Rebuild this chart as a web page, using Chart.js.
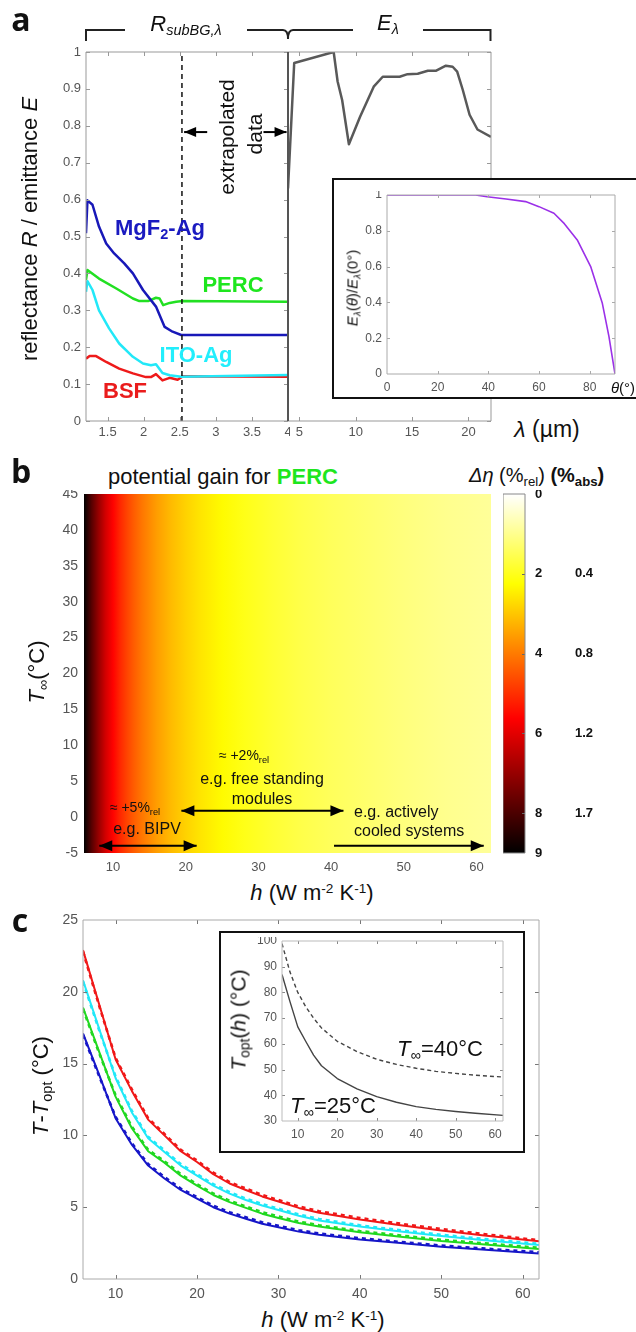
<!DOCTYPE html>
<html><head><meta charset="utf-8">
<script src="https://cdn.jsdelivr.net/npm/chart.js@4.4.1/dist/chart.umd.min.js"></script>
<style>
html,body{margin:0;padding:0;background:#fff;}
#fig{position:relative;width:636px;height:1332px;overflow:hidden;background:#fff;font-family:"Liberation Sans",Arial,Helvetica,sans-serif;color:#111;}
#fig canvas{position:absolute;}
.t{position:absolute;white-space:nowrap;line-height:1;}
.t sub{font-size:66%;position:relative;top:0.3em;vertical-align:baseline;line-height:0;}
.t sup{font-size:62%;position:relative;top:-0.5em;vertical-align:baseline;line-height:0;}
.box{position:absolute;border:2px solid #111;background:#fff;box-sizing:border-box;}
</style></head>
<body><div id="fig">
<canvas id="cA1"></canvas>
<canvas id="cA2"></canvas>
<div class="box" style="left:332px;top:178px;width:312px;height:221px;"></div>
<canvas id="cAI"></canvas>
<canvas id="cB"></canvas>
<canvas id="cCB"></canvas>
<canvas id="cC"></canvas>
<div class="box" style="left:219px;top:931px;width:306px;height:222px;"></div>
<canvas id="cCI"></canvas>
<svg style="position:absolute;left:0;top:0;" width="636" height="60"><path d="M86,41 L86,30 L125,30 M247,30 L283,30 Q288,30 288,39 Q288,30 293,30 L353,30 M423,30 L490.5,30 L490.5,41" fill="none" stroke="#222" stroke-width="2"/></svg>
</div>
<script>
// ================= DATA =================
// Panel a: sub-bandgap reflectance R(lambda) [lambda in um]
const lamMgF2 = [1.2, 1.22, 1.29, 1.38, 1.48, 1.59, 1.73, 1.85, 1.99, 2.17, 2.29, 2.4, 2.52, 4.0];
const R_MgF2  = [0.509, 0.598, 0.586, 0.527, 0.481, 0.454, 0.427, 0.40, 0.355, 0.31, 0.255, 0.242, 0.233, 0.233];
const lamPERC = [1.2, 1.22, 1.38, 1.62, 1.85, 1.94, 2.06, 2.17, 2.22, 2.27, 2.36, 2.45, 2.54, 4.0];
const R_PERC  = [0.382, 0.409, 0.386, 0.359, 0.332, 0.325, 0.325, 0.334, 0.332, 0.314, 0.32, 0.323, 0.325, 0.323];
const lamITO  = [1.2, 1.22, 1.29, 1.38, 1.52, 1.66, 1.85, 1.99, 2.1, 2.17, 2.26, 2.36, 2.52, 4.0];
const R_ITO   = [0.35, 0.379, 0.355, 0.30, 0.251, 0.21, 0.174, 0.156, 0.151, 0.154, 0.13, 0.124, 0.12, 0.125];
const lamBSF  = [1.2, 1.25, 1.34, 1.48, 1.66, 1.85, 2.03, 2.1, 2.17, 2.26, 2.36, 2.47, 2.54, 4.0];
const R_BSF   = [0.169, 0.176, 0.176, 0.16, 0.142, 0.129, 0.119, 0.119, 0.127, 0.11, 0.117, 0.112, 0.121, 0.12];
const extrapStart = 2.53;
// Panel a: spectral emittance E(lambda)
const lamE  = [4.0, 4.55, 8.05, 8.4, 8.8, 9.4, 10.4, 11.6, 12.4, 13.9, 14.6, 15.5, 16.4, 17.1, 18.0, 18.6, 19.0, 19.5, 20.1, 20.8, 22.0];
const E_lam = [0.63, 0.97, 1.0, 0.92, 0.87, 0.75, 0.825, 0.906, 0.933, 0.933, 0.94, 0.941, 0.949, 0.949, 0.963, 0.96, 0.947, 0.897, 0.83, 0.79, 0.77];
// Panel a inset: angular emittance
const thetaDeg = [0, 35, 39.5, 47, 54.7, 60, 65.9, 70, 75.1, 80.4, 85, 87.6, 90];
const E_theta  = [1, 1, 0.99, 0.978, 0.963, 0.935, 0.898, 0.84, 0.749, 0.6, 0.395, 0.21, 0];
// Panel a ticks
const xTicksA1 = [1.5, 2, 2.5, 3, 3.5, 4];
const xTicksA2 = [5, 10, 15, 20];
const yTicksA  = [0, 0.1, 0.2, 0.3, 0.4, 0.5, 0.6, 0.7, 0.8, 0.9, 1];
const xTicksAI = [0, 20, 40, 60, 80];
const yTicksAI = [0, 0.2, 0.4, 0.6, 0.8, 1];
// Panel b: potential gain for PERC, delta eta (%rel) vs h
const hMap     = [6, 7, 8, 9, 10, 11, 12, 13, 14, 15, 16, 18, 20, 22, 25, 28, 32, 36, 40, 45, 50, 56, 62];
const dEtaPERC = [9.0, 7.9, 7.0, 6.2, 5.6, 5.1, 4.7, 4.35, 4.05, 3.8, 3.55, 3.15, 2.85, 2.6, 2.3, 2.05, 1.8, 1.6, 1.45, 1.3, 1.15, 1.0, 0.9];
const xTicksB  = [10, 20, 30, 40, 50, 60];
const yTicksB  = [-5, 0, 5, 10, 15, 20, 25, 30, 35, 40, 45];
const cbStops  = [0, 2.25, 5.625, 9];
const cbRelTicks = [0, 2, 4, 6, 8, 9];
const cbAbsTicks = [2, 4, 6, 8];
const cbAbsLabels = ['0.4', '0.8', '1.2', '1.7'];
// Panel c: T - T_opt vs h (solid: T_inf=25C, dashed: T_inf=40C)
const hC = [6, 8, 10, 12, 14, 16, 18, 20, 22, 24, 26, 28, 30, 32.5, 35, 40, 45, 50, 55, 62];
const dT_BSF_25  = [22.9, 19.1, 15.3, 13.1, 11.1, 10.0, 8.9, 8.15, 7.3, 6.65, 6.2, 5.75, 5.4, 4.95, 4.62, 4.15, 3.75, 3.38, 3.05, 2.62];
const dT_BSF_40  = [22.8, 19.0, 15.4, 13.2, 11.2, 10.1, 9.0, 8.25, 7.4, 6.75, 6.3, 5.85, 5.5, 5.05, 4.72, 4.25, 3.85, 3.48, 3.14, 2.7];
const dT_ITO_25  = [20.8, 17.4, 14.0, 11.6, 9.8, 8.85, 7.9, 7.2, 6.5, 5.95, 5.5, 5.12, 4.8, 4.4, 4.08, 3.65, 3.3, 3.0, 2.72, 2.37];
const dT_ITO_40  = [20.7, 17.3, 14.1, 11.7, 9.9, 8.95, 8.0, 7.3, 6.6, 6.05, 5.6, 5.22, 4.9, 4.5, 4.18, 3.74, 3.39, 3.08, 2.8, 2.45];
const dT_PERC_25 = [18.9, 15.8, 12.7, 10.5, 8.9, 8.1, 7.2, 6.5, 5.85, 5.35, 4.95, 4.55, 4.25, 3.9, 3.65, 3.25, 2.95, 2.65, 2.42, 2.09];
const dT_PERC_40 = [18.8, 15.7, 12.8, 10.6, 9.0, 8.2, 7.3, 6.6, 5.95, 5.45, 5.05, 4.65, 4.35, 4.0, 3.74, 3.34, 3.03, 2.73, 2.5, 2.17];
const dT_MgF2_25 = [17.1, 14.2, 11.2, 9.35, 7.9, 7.0, 6.2, 5.6, 5.0, 4.55, 4.2, 3.85, 3.6, 3.3, 3.08, 2.75, 2.5, 2.25, 2.05, 1.78];
const dT_MgF2_40 = [17.0, 14.1, 11.3, 9.45, 8.0, 7.1, 6.3, 5.7, 5.1, 4.65, 4.3, 3.95, 3.7, 3.4, 3.17, 2.84, 2.58, 2.33, 2.13, 1.86];
const xTicksC = [10, 20, 30, 40, 50, 60];
const yTicksC = [0, 5, 10, 15, 20, 25];
// Panel c inset: T_opt(h)
const hIn    = [6, 8, 10, 12, 14, 16, 20, 25, 30, 35, 40, 45, 50, 55, 62];
const Topt25 = [87, 76.5, 66.6, 61, 55.6, 51.5, 46.5, 42.5, 39.5, 37.3, 35.6, 34.5, 33.7, 33, 32.2];
const Topt40 = [99, 88, 80, 74.5, 70, 66.2, 61, 57, 54, 52, 50.5, 49.3, 48.5, 47.8, 47.1];
const xTicksCI = [10, 20, 30, 40, 50, 60];
const yTicksCI = [30, 40, 50, 60, 70, 80, 90, 100];

// ================= HELPERS =================
const FONT = '"Liberation Sans", Arial, Helvetica, sans-serif';
Chart.defaults.font.family = FONT;
const fig = document.getElementById('fig');
function xy(xs, ys) { return xs.map(function (x, i) { return { x: x, y: ys[i] }; }); }
function clamp(v) { return Math.max(0, Math.min(1, v)); }
function hot(v) {
  const t = 1 - v / 9;
  return 'rgb(' + Math.round(255 * clamp(t / 0.375)) + ',' + Math.round(255 * clamp((t - 0.375) / 0.375)) + ',' + Math.round(255 * clamp((t - 0.75) / 0.25)) + ')';
}
function lin(min, max, ticks, o) {
  o = o || {};
  const s = {
    type: 'linear', min: min, max: max, reverse: !!o.reverse, display: true,
    afterBuildTicks: function (ax) { ax.ticks = ticks.map(function (v) { return { value: v }; }); },
    afterFit: function (ax) {
      if (ax.isHorizontal()) { ax.height = o.fit; ax.paddingLeft = 0; ax.paddingRight = 0; }
      else { ax.width = o.fit; ax.paddingTop = 0; ax.paddingBottom = 0; }
    },
    grid: { display: false, drawTicks: false },
    border: { display: false },
    ticks: {
      display: o.labels !== false, padding: (o.pad === undefined ? 4 : o.pad), color: o.color || '#555',
      font: { family: FONT, size: o.size || 13, weight: o.weight || 'normal' },
      maxRotation: 0, minRotation: 0, autoSkip: false,
      callback: o.cb || function (v) { return String(Math.round(v * 1000) / 1000); }
    }
  };
  if (o.position) s.position = o.position;
  if (o.weightAx !== undefined) s.weight = o.weightAx;
  return s;
}
const mbox = {
  id: 'mbox',
  afterDatasetsDraw: function (chart, args, o) {
    if (!o || !o.on) return;
    const ctx = chart.ctx, a = chart.chartArea, xs = chart.scales.x, ys = chart.scales.y;
    const tl = o.tl || 4;
    ctx.save();
    ctx.lineWidth = 1; ctx.strokeStyle = o.tc || o.color || '#777';
    ctx.beginPath();
    (o.xt || []).forEach(function (v) {
      const p = Math.round(xs.getPixelForValue(v)) + 0.5;
      if (o.tb !== false) { ctx.moveTo(p, a.bottom); ctx.lineTo(p, a.bottom - tl); }
      if (o.tt !== false) { ctx.moveTo(p, a.top); ctx.lineTo(p, a.top + tl); }
    });
    (o.yt || []).forEach(function (v) {
      const p = Math.round(ys.getPixelForValue(v)) + 0.5;
      if (o.tlft !== false) { ctx.moveTo(a.left, p); ctx.lineTo(a.left + tl, p); }
      if (o.tr !== false) { ctx.moveTo(a.right, p); ctx.lineTo(a.right - tl, p); }
    });
    ctx.stroke();
    const sides = { top: [a.left, a.top, a.right, a.top], right: [a.right, a.top, a.right, a.bottom], bottom: [a.left, a.bottom, a.right, a.bottom], left: [a.left, a.top, a.left, a.bottom] };
    Object.keys(sides).forEach(function (k) {
      const c = (o.bc && o.bc[k]) || o.color;
      if (!c || c === 'none') return;
      ctx.strokeStyle = c; ctx.lineWidth = (o.bw && o.bw[k]) || o.w || 1;
      const s = sides[k];
      ctx.beginPath(); ctx.moveTo(s[0], s[1]); ctx.lineTo(s[2], s[3]); ctx.stroke();
    });
    ctx.restore();
  }
};
const arrows = {
  id: 'arrows',
  afterDatasetsDraw: function (chart, args, o) {
    if (!o || !o.list) return;
    const ctx = chart.ctx, xs = chart.scales.x, ys = chart.scales.y;
    const L = o.len || 12, Wd = o.wid || 5;
    o.list.forEach(function (ar) {
      const x1 = xs.getPixelForValue(ar.x1), y1 = ys.getPixelForValue(ar.y1);
      const x2 = xs.getPixelForValue(ar.x2), y2 = ys.getPixelForValue(ar.y2);
      const ang = Math.atan2(y2 - y1, x2 - x1);
      ctx.save(); ctx.strokeStyle = '#000'; ctx.fillStyle = '#000'; ctx.lineWidth = o.lw || 2;
      ctx.beginPath(); ctx.moveTo(x1, y1); ctx.lineTo(x2, y2); ctx.stroke();
      function head(px, py, an) {
        ctx.beginPath();
        ctx.moveTo(px, py);
        ctx.lineTo(px - L * Math.cos(an) + Wd * Math.sin(an), py - L * Math.sin(an) - Wd * Math.cos(an));
        ctx.lineTo(px - L * Math.cos(an) - Wd * Math.sin(an), py - L * Math.sin(an) + Wd * Math.cos(an));
        ctx.closePath(); ctx.fill();
      }
      head(x2, y2, ang);
      if (ar.both) head(x1, y1, ang + Math.PI);
      ctx.restore();
    });
  }
};
Chart.register(mbox, arrows);

function place(id, plot, m) {
  const c = document.getElementById(id);
  const W = plot.w + m.l + m.r, H = plot.h + m.t + m.b;
  c.width = W; c.height = H; c.style.width = W + 'px'; c.style.height = H + 'px';
  c.style.left = (plot.x - m.l) + 'px'; c.style.top = (plot.y - m.t) + 'px';
  return c;
}
function make(id, plot, m, datasets, scales, plug) {
  const c = place(id, plot, m);
  return new Chart(c, {
    type: 'line', data: { datasets: datasets },
    options: {
      responsive: false, maintainAspectRatio: false, animation: false, devicePixelRatio: 1, events: [],
      layout: { padding: { left: 0, right: m.r, top: m.t, bottom: 0 } },
      plugins: Object.assign({ legend: { display: false }, tooltip: { enabled: false }, title: { display: false } }, plug || {}),
      scales: scales,
      elements: { point: { radius: 0, hoverRadius: 0 }, line: { tension: 0, borderJoinStyle: 'round', borderCapStyle: 'butt' } }
    }
  });
}
function ln(data, color, w, dash) {
  return { data: data, borderColor: color, borderWidth: w, borderDash: dash || [], fill: false, pointRadius: 0 };
}
function T(html, x, y, css, mode) {
  const d = document.createElement('div');
  d.className = 't'; d.innerHTML = html;
  d.style.cssText = css || '';
  d.style.left = x + 'px'; d.style.top = y + 'px';
  let tr = (mode === 'L') ? 'translate(0,-50%)' : 'translate(-50%,-50%)';
  if (mode === 'R') tr += ' rotate(-90deg)';
  d.style.transform = tr;
  fig.appendChild(d);
}

// ================= PANEL a =================
const cBlue = '#1818b8', cGreen = '#22e022', cCyan = '#22e8f8', cRed = '#ee1a1a';
make('cA1', { x: 86, y: 52, w: 202, h: 369 }, { l: 60, r: 2, t: 6, b: 24 }, [
  ln([{ x: extrapStart, y: 0 }, { x: extrapStart, y: 1 }], '#111', 1.5, [5, 4]),
  ln(xy(lamMgF2, R_MgF2), cBlue, 2.5),
  ln(xy(lamPERC, R_PERC), cGreen, 2.5),
  ln(xy(lamITO, R_ITO), cCyan, 2.5),
  ln(xy(lamBSF, R_BSF), cRed, 2.5)
], {
  x: lin(1.2, 4, xTicksA1, { fit: 24, pad: 4, size: 13 }),
  y: lin(0, 1, yTicksA, { fit: 60, pad: 5, size: 13 })
}, {
  mbox: { on: true, color: '#999', bc: { right: '#555' }, bw: { right: 2 }, xt: [1.5, 2, 2.5, 3, 3.5], yt: yTicksA },
  arrows: { list: [{ x1: 2.88, y1: 0.783, x2: 2.56, y2: 0.783 }, { x1: 3.66, y1: 0.783, x2: 3.98, y2: 0.783 }], len: 12, wid: 5, lw: 2 }
});
make('cA2', { x: 288, y: 52, w: 203, h: 369 }, { l: 2, r: 6, t: 6, b: 24 }, [
  ln(xy(lamE, E_lam), '#595959', 2.5)
], {
  x: lin(4, 22, xTicksA2, { fit: 24, pad: 4, size: 13 }),
  y: lin(0, 1, yTicksA, { fit: 2, labels: false })
}, {
  mbox: { on: true, color: '#999', bc: { left: '#555' }, bw: { left: 2 }, xt: xTicksA2, yt: yTicksA, tlft: false }
});
make('cAI', { x: 387, y: 195, w: 228, h: 179 }, { l: 40, r: 4, t: 4, b: 22 }, [
  ln(xy(thetaDeg, E_theta), '#9b30e8', 1.6)
], {
  x: lin(0, 90, xTicksAI, { fit: 22, pad: 6, size: 12 }),
  y: lin(0, 1, yTicksAI, { fit: 40, pad: 5, size: 12 })
}, {
  mbox: { on: true, color: '#aaa', xt: [20, 40, 60, 80], yt: [0.2, 0.4, 0.6, 0.8], tl: 3 }
});

// ================= PANEL b =================
make('cB', { x: 84, y: 494, w: 407, h: 359 }, { l: 50, r: 4, t: 4, b: 24 }, [{
  data: [{ x: hMap[0], y: 45 }, { x: hMap[hMap.length - 1], y: 45 }],
  borderColor: 'rgba(0,0,0,0)', borderWidth: 0, pointRadius: 0, fill: { value: -5 },
  backgroundColor: function (c) {
    const ch = c.chart; if (!ch.chartArea) return 'rgba(0,0,0,0)';
    const xs = ch.scales.x, h0 = hMap[0], h1 = hMap[hMap.length - 1];
    const g = ch.ctx.createLinearGradient(xs.getPixelForValue(h0), 0, xs.getPixelForValue(h1), 0);
    hMap.forEach(function (h, i) { g.addColorStop((h - h0) / (h1 - h0), hot(dEtaPERC[i])); });
    return g;
  }
}], {
  x: lin(6, 62, xTicksB, { fit: 24, pad: 7, size: 13 }),
  y: lin(-5, 45, yTicksB, { fit: 50, pad: 6, size: 14 })
}, {
  arrows: { list: [
    { x1: 8.1, y1: -4, x2: 21.5, y2: -4, both: true },
    { x1: 19.4, y1: 0.9, x2: 41.7, y2: 0.9, both: true },
    { x1: 40.4, y1: -4, x2: 61.0, y2: -4 }
  ], len: 13, wid: 5.5, lw: 2 }
});
(function () {
  const plot = { x: 503, y: 494, w: 22, h: 359 }, m = { l: 0, r: 110, t: 4, b: 4 };
  const c = place('cCB', plot, m);
  new Chart(c, {
    type: 'line',
    data: { datasets: [{
      data: [{ x: 0, y: 0 }, { x: 1, y: 0 }],
      borderColor: 'rgba(0,0,0,0)', borderWidth: 0, pointRadius: 0, fill: { value: 9 },
      backgroundColor: function (cx) {
        const ch = cx.chart; if (!ch.chartArea) return 'rgba(0,0,0,0)';
        const ys = ch.scales.y;
        const g = ch.ctx.createLinearGradient(0, ys.getPixelForValue(0), 0, ys.getPixelForValue(9));
        cbStops.forEach(function (v) { g.addColorStop(v / 9, hot(v)); });
        return g;
      }
    }] },
    options: {
      responsive: false, maintainAspectRatio: false, animation: false, devicePixelRatio: 1, events: [],
      layout: { padding: { left: 0, right: 2, top: 4, bottom: 4 } },
      plugins: { legend: { display: false }, tooltip: { enabled: false },
        mbox: { on: true, color: '#888', xt: [], yt: [2, 4, 6, 8], tlft: false, tl: 3, tc: '#666' } },
      elements: { point: { radius: 0 }, line: { tension: 0 } },
      scales: {
        x: { type: 'linear', min: 0, max: 1, display: false },
        y: lin(0, 9, cbRelTicks, { position: 'right', reverse: true, fit: 38, pad: 10, size: 13, weight: 'bold', color: '#111', weightAx: 0 }),
        y2: lin(0, 9, cbAbsTicks, { position: 'right', reverse: true, fit: 70, pad: 12, size: 13, weight: 'bold', color: '#111', weightAx: 1,
          cb: function (v, i) { return cbAbsLabels[i]; } })
      }
    }
  });
})();

// ================= PANEL c =================
const rC = '#f01818', cyC = '#20e8f8', gC = '#20d820', bC = '#1616c8';
make('cC', { x: 83, y: 920, w: 456, h: 359 }, { l: 50, r: 6, t: 6, b: 26 }, [
  ln(xy(hC, dT_BSF_40), rC, 2.6, [4, 4]),
  ln(xy(hC, dT_BSF_25), rC, 2),
  ln(xy(hC, dT_ITO_40), cyC, 2.6, [4, 4]),
  ln(xy(hC, dT_ITO_25), cyC, 2),
  ln(xy(hC, dT_PERC_40), gC, 2.6, [4, 4]),
  ln(xy(hC, dT_PERC_25), gC, 2),
  ln(xy(hC, dT_MgF2_40), bC, 2.6, [4, 4]),
  ln(xy(hC, dT_MgF2_25), bC, 2)
], {
  x: lin(6, 62, xTicksC, { fit: 26, pad: 7, size: 14 }),
  y: lin(0, 25, yTicksC, { fit: 50, pad: 5, size: 14 })
}, {
  mbox: { on: true, color: '#aaa', xt: xTicksC, yt: [5, 10, 15, 20], tc: '#777' }
});
make('cCI', { x: 282, y: 941, w: 221, h: 180 }, { l: 40, r: 4, t: 4, b: 22 }, [
  ln(xy(hIn, Topt40), '#444', 1.4, [4, 3]),
  ln(xy(hIn, Topt25), '#444', 1.4)
], {
  x: lin(6, 62, xTicksCI, { fit: 22, pad: 6, size: 12 }),
  y: lin(30, 100, yTicksCI, { fit: 40, pad: 5, size: 12 })
}, {
  mbox: { on: true, color: '#bbb', xt: xTicksCI, yt: [40, 50, 60, 70, 80, 90], tl: 3, tc: '#888' }
});

// ================= TEXT =================
const F = 'font-family:"Liberation Sans",Arial,sans-serif;';
const FB = 'font-family:"Open Sans","Liberation Sans",sans-serif;font-weight:bold;font-size:32px;';
// panel a
T('a', 21, 19, FB);
T('<i>R</i><sub><i>subBG,λ</i></sub>', 186, 24, F + 'font-size:22px;');
T('<i>E</i><sub><i>λ</i></sub>', 388, 23, F + 'font-size:22px;');
T('reflectance <i>R</i> / emittance <i>E</i>', 30, 229, F + 'font-size:22px;', 'R');
T('MgF<sub>2</sub>-Ag', 160, 228, F + 'font-size:22px;font-weight:bold;color:#1a1ac0;');
T('PERC', 233, 285, F + 'font-size:22px;font-weight:bold;color:#1ee61e;');
T('ITO-Ag', 196, 355, F + 'font-size:22px;font-weight:bold;color:#22eefc;');
T('BSF', 125, 391, F + 'font-size:22px;font-weight:bold;color:#ea1c1c;');
T('extrapolated', 226, 137, F + 'font-size:21px;', 'R');
T('data', 254, 134, F + 'font-size:21px;', 'R');
T('<i>λ</i> (µm)', 547, 429, F + 'font-size:23px;');
T('<i>E</i><sub><i>λ</i></sub>(<i>θ</i>)/<i>E</i><sub><i>λ</i></sub>(0°)', 352, 288, F + 'font-size:15px;', 'R');
T('<i>θ</i>(°)', 623, 387, F + 'font-size:15px;');
// panel b
T('b', 21, 471, FB);
T('potential gain for <b style="color:#1ee61e;">PERC</b>', 108, 477, F + 'font-size:22px;', 'L');
T('<i>Δη</i> (%<sub>rel</sub>) <b>(%<sub>abs</sub>)</b>', 469, 475, F + 'font-size:20px;', 'L');
T('<i>T</i><sub>∞</sub>(°C)', 37, 672, F + 'font-size:22px;', 'R');
T('≈ +2%<sub>rel</sub>', 244, 755, F + 'font-size:14px;');
T('e.g. free standing', 262, 779, F + 'font-size:16px;');
T('modules', 262, 799, F + 'font-size:16px;');
T('≈ +5%<sub>rel</sub>', 135, 807, F + 'font-size:14px;');
T('e.g. BIPV', 147, 829, F + 'font-size:16px;');
T('e.g. actively', 354, 812, F + 'font-size:16px;', 'L');
T('cooled systems', 354, 831, F + 'font-size:16px;', 'L');
T('<i>h</i> (W m<sup>-2</sup> K<sup>-1</sup>)', 312, 893, F + 'font-size:22px;');
// panel c
T('c', 20, 920, FB);
T('<i>T</i>-<i>T</i><sub>opt</sub> (°C)', 41, 1086, F + 'font-size:22px;', 'R');
T('<i>h</i> (W m<sup>-2</sup> K<sup>-1</sup>)', 323, 1320, F + 'font-size:22px;');
T('<i>T</i><sub>opt</sub>(<i>h</i>) (°C)', 238, 1020, F + 'font-size:21px;', 'R');
T('<i>T</i><sub>∞</sub>=40°C', 440, 1049, F + 'font-size:22px;');
T('<i>T</i><sub>∞</sub>=25°C', 333, 1106, F + 'font-size:22px;');
</script>
</body></html>
